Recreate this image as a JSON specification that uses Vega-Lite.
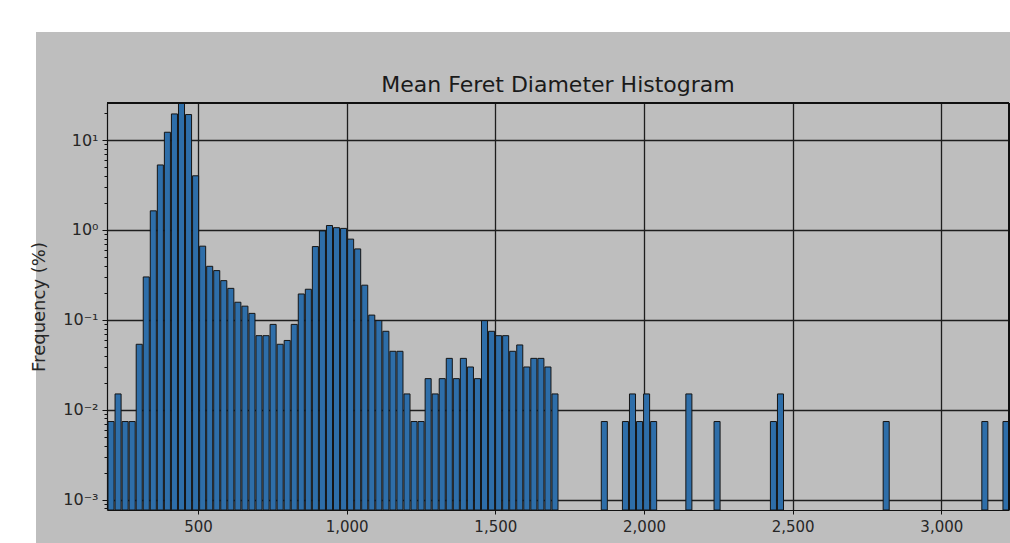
{
  "$schema": "https://vega.github.io/schema/vega-lite/v6.json",
  "autosize": {"type": "none"},
  "padding": {"left": 107, "top": 103, "right": 1, "bottom": 33},
  "width": 902,
  "height": 407,
  "background": "#ffffff",
  "title": {
    "text": "Mean Feret Diameter Histogram",
    "font": "DejaVu Sans",
    "fontSize": 22,
    "fontWeight": "normal",
    "color": "#1a1a1a",
    "anchor": "middle",
    "frame": "group",
    "baseline": "alphabetic",
    "offset": -12
  },
  "config": {
    "view": {"fill": "#bebebe", "stroke": "#bebebe", "strokeWidth": 142, "strokeJoin": "miter"},
    "axis": {
      "labelFont": "DejaVu Sans",
      "titleFont": "DejaVu Sans",
      "labelColor": "#262626",
      "titleColor": "#262626",
      "domainColor": "#111111",
      "tickColor": "#111111",
      "gridColor": "#1e1e1e",
      "gridWidth": 1.3,
      "domainWidth": 1.2
    }
  },
  "data": {
    "values": [
      {"bin_start": 194.0, "bin_end": 217.7, "pct": 0.0074},
      {"bin_start": 217.7, "bin_end": 241.4, "pct": 0.015},
      {"bin_start": 241.4, "bin_end": 265.1, "pct": 0.0074},
      {"bin_start": 265.1, "bin_end": 288.8, "pct": 0.0074},
      {"bin_start": 288.8, "bin_end": 312.5, "pct": 0.0535},
      {"bin_start": 312.5, "bin_end": 336.2, "pct": 0.30},
      {"bin_start": 336.2, "bin_end": 359.9, "pct": 1.63},
      {"bin_start": 359.9, "bin_end": 383.6, "pct": 5.28},
      {"bin_start": 383.6, "bin_end": 407.3, "pct": 12.2},
      {"bin_start": 407.3, "bin_end": 431.0, "pct": 19.5},
      {"bin_start": 431.0, "bin_end": 454.7, "pct": 25.7},
      {"bin_start": 454.7, "bin_end": 478.4, "pct": 19.2},
      {"bin_start": 478.4, "bin_end": 502.1, "pct": 4.0},
      {"bin_start": 502.1, "bin_end": 525.8, "pct": 0.66},
      {"bin_start": 525.8, "bin_end": 549.5, "pct": 0.394},
      {"bin_start": 549.5, "bin_end": 573.2, "pct": 0.353},
      {"bin_start": 573.2, "bin_end": 596.9, "pct": 0.273},
      {"bin_start": 596.9, "bin_end": 620.6, "pct": 0.224},
      {"bin_start": 620.6, "bin_end": 644.3, "pct": 0.157},
      {"bin_start": 644.3, "bin_end": 668.0, "pct": 0.142},
      {"bin_start": 668.0, "bin_end": 691.7, "pct": 0.118},
      {"bin_start": 691.7, "bin_end": 715.4, "pct": 0.0667},
      {"bin_start": 715.4, "bin_end": 739.1, "pct": 0.0667},
      {"bin_start": 739.1, "bin_end": 762.8, "pct": 0.089},
      {"bin_start": 762.8, "bin_end": 786.5, "pct": 0.0535},
      {"bin_start": 786.5, "bin_end": 810.2, "pct": 0.059},
      {"bin_start": 810.2, "bin_end": 833.9, "pct": 0.089},
      {"bin_start": 833.9, "bin_end": 857.6, "pct": 0.194},
      {"bin_start": 857.6, "bin_end": 881.3, "pct": 0.219},
      {"bin_start": 881.3, "bin_end": 905.0, "pct": 0.653},
      {"bin_start": 905.0, "bin_end": 928.7, "pct": 0.975},
      {"bin_start": 928.7, "bin_end": 952.4, "pct": 1.12},
      {"bin_start": 952.4, "bin_end": 976.1, "pct": 1.06},
      {"bin_start": 976.1, "bin_end": 999.8, "pct": 1.04},
      {"bin_start": 999.8, "bin_end": 1023.5, "pct": 0.79},
      {"bin_start": 1023.5, "bin_end": 1047.2, "pct": 0.615},
      {"bin_start": 1047.2, "bin_end": 1070.9, "pct": 0.243},
      {"bin_start": 1070.9, "bin_end": 1094.6, "pct": 0.113},
      {"bin_start": 1094.6, "bin_end": 1118.3, "pct": 0.098},
      {"bin_start": 1118.3, "bin_end": 1142.0, "pct": 0.0746},
      {"bin_start": 1142.0, "bin_end": 1165.7, "pct": 0.0447},
      {"bin_start": 1165.7, "bin_end": 1189.4, "pct": 0.0447},
      {"bin_start": 1189.4, "bin_end": 1213.1, "pct": 0.015},
      {"bin_start": 1213.1, "bin_end": 1236.8, "pct": 0.0074},
      {"bin_start": 1236.8, "bin_end": 1260.5, "pct": 0.0074},
      {"bin_start": 1260.5, "bin_end": 1284.2, "pct": 0.0222},
      {"bin_start": 1284.2, "bin_end": 1307.9, "pct": 0.015},
      {"bin_start": 1307.9, "bin_end": 1331.6, "pct": 0.0222},
      {"bin_start": 1331.6, "bin_end": 1355.3, "pct": 0.0373},
      {"bin_start": 1355.3, "bin_end": 1379.0, "pct": 0.0222},
      {"bin_start": 1379.0, "bin_end": 1402.7, "pct": 0.0373},
      {"bin_start": 1402.7, "bin_end": 1426.4, "pct": 0.0299},
      {"bin_start": 1426.4, "bin_end": 1450.1, "pct": 0.0222},
      {"bin_start": 1450.1, "bin_end": 1473.8, "pct": 0.098},
      {"bin_start": 1473.8, "bin_end": 1497.5, "pct": 0.0746},
      {"bin_start": 1497.5, "bin_end": 1521.2, "pct": 0.0667},
      {"bin_start": 1521.2, "bin_end": 1544.9, "pct": 0.0667},
      {"bin_start": 1544.9, "bin_end": 1568.6, "pct": 0.0447},
      {"bin_start": 1568.6, "bin_end": 1592.3, "pct": 0.0526},
      {"bin_start": 1592.3, "bin_end": 1616.0, "pct": 0.0299},
      {"bin_start": 1616.0, "bin_end": 1639.7, "pct": 0.0373},
      {"bin_start": 1639.7, "bin_end": 1663.4, "pct": 0.0373},
      {"bin_start": 1663.4, "bin_end": 1687.1, "pct": 0.0299},
      {"bin_start": 1687.1, "bin_end": 1710.8, "pct": 0.015},
      {"bin_start": 1853.0, "bin_end": 1876.7, "pct": 0.0074},
      {"bin_start": 1924.1, "bin_end": 1947.8, "pct": 0.0074},
      {"bin_start": 1947.8, "bin_end": 1971.5, "pct": 0.015},
      {"bin_start": 1971.5, "bin_end": 1995.2, "pct": 0.0074},
      {"bin_start": 1995.2, "bin_end": 2018.9, "pct": 0.015},
      {"bin_start": 2018.9, "bin_end": 2042.6, "pct": 0.0074},
      {"bin_start": 2137.4, "bin_end": 2161.1, "pct": 0.015},
      {"bin_start": 2232.2, "bin_end": 2255.9, "pct": 0.0074},
      {"bin_start": 2421.8, "bin_end": 2445.5, "pct": 0.0074},
      {"bin_start": 2445.5, "bin_end": 2469.2, "pct": 0.015},
      {"bin_start": 2801.0, "bin_end": 2824.7, "pct": 0.0074},
      {"bin_start": 3132.8, "bin_end": 3156.5, "pct": 0.0074},
      {"bin_start": 3203.9, "bin_end": 3227.6, "pct": 0.0074}
    ]
  },
  "layer": [
    {
      "mark": {"type": "bar", "fill": "#2e6ea9", "stroke": "#151515", "strokeWidth": 1, "clip": true},
      "encoding": {
        "x": {
          "field": "bin_start",
          "type": "quantitative",
          "bin": "binned",
          "scale": {"domain": [194, 3227.6], "nice": false, "zero": false},
          "axis": {
            "title": null,
            "values": [500, 1000, 1500, 2000, 2500, 3000],
            "format": ",d",
            "grid": true,
            "tickSize": 4,
            "labelPadding": 5,
            "labelFontSize": 15,
            "labelFlush": false
          }
        },
        "x2": {"field": "bin_end"},
        "y": {
          "field": "pct",
          "type": "quantitative",
          "scale": {"type": "log", "domain": [0.000768, 25.8], "nice": false},
          "axis": {
            "title": "Frequency (%)",
            "titleFontSize": 18,
            "titleFontWeight": "normal",
            "titlePadding": 14,
            "grid": true,
            "values": [0.0008, 0.0009, 0.001, 0.002, 0.003, 0.004, 0.005, 0.006, 0.007, 0.008, 0.009, 0.01, 0.02, 0.03, 0.04, 0.05, 0.06, 0.07, 0.08, 0.09, 0.1, 0.2, 0.3, 0.4, 0.5, 0.6, 0.7, 0.8, 0.9, 1, 2, 3, 4, 5, 6, 7, 8, 9, 10, 20],
            "labelExpr": "abs(log(datum.value)/LN10 - round(log(datum.value)/LN10)) > 0.001 ? '' : (round(log(datum.value)/LN10) == 1 ? '10¹' : round(log(datum.value)/LN10) == 0 ? '10⁰' : round(log(datum.value)/LN10) == -1 ? '10⁻¹' : round(log(datum.value)/LN10) == -2 ? '10⁻²' : '10⁻³')",
            "labelFontSize": 16,
            "labelPadding": 4,
            "labelFlush": false,
            "labelOverlap": false,
            "tickSize": {"condition": {"test": "abs(log(datum.value)/LN10 - round(log(datum.value)/LN10)) < 0.001", "value": 5}, "value": 3},
            "gridOpacity": {"condition": {"test": "abs(log(datum.value)/LN10 - round(log(datum.value)/LN10)) < 0.001", "value": 1}, "value": 0}
          }
        },
        "y2": {"datum": 0.000768}
      }
    },
    {
      "mark": {"type": "rule", "color": "#111111", "strokeWidth": 1.2},
      "encoding": {"y": {"datum": 25.8}}
    },
    {
      "mark": {"type": "rule", "color": "#111111", "strokeWidth": 1.2},
      "encoding": {"x": {"datum": 3227.6}}
    }
  ]
}
